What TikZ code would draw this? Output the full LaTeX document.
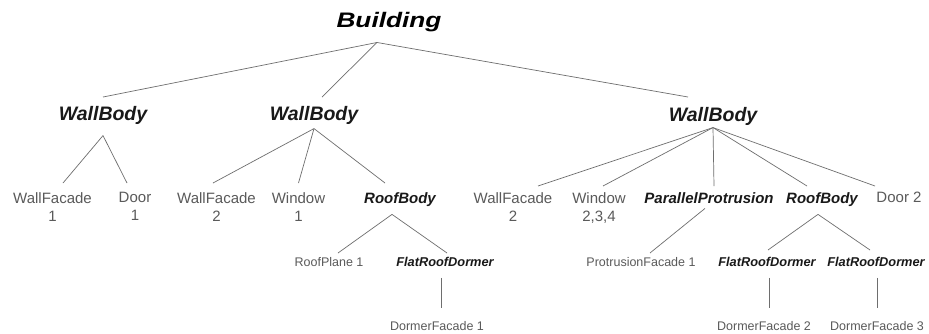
\documentclass[tikz,border=0pt]{standalone}
\usepackage{fontspec}
\setmainfont{Liberation Sans}
\usepackage{graphicx}
\usepackage{xcolor}
\definecolor{leafgray}{HTML}{5A5A5A}
\definecolor{linegray}{HTML}{6E6E6E}
\tikzset{
  bigclass/.style={anchor=north, inner sep=0pt, text=black, font=\fontsize{21}{24}\selectfont\bfseries\itshape},
  class/.style={anchor=north, inner sep=0pt, text=black!90, font=\fontsize{19.5}{22}\selectfont\bfseries\itshape},
  leaf/.style={anchor=north, inner sep=0pt, align=center, text=leafgray, font=\fontsize{15}{18}\selectfont},
  midclass/.style={anchor=north, inner sep=0pt, text=black!90, font=\fontsize{15}{18}\selectfont\bfseries\itshape},
  small/.style={anchor=north, inner sep=0pt, text=leafgray, font=\fontsize{12.5}{15}\selectfont},
  smallclass/.style={anchor=north, inner sep=0pt, text=black!90, font=\fontsize{12.8}{15}\selectfont\bfseries\itshape},
  link/.style={draw=linegray, line width=0.7pt}
}
\begin{document}
\begin{tikzpicture}[x=1pt,y=-1pt]
% fond blanc
\useasboundingbox[fill=white] (0,0) rectangle (929,333);
% racine et corps de murs
\node[bigclass] (bld) at (389,12) {\scalebox{1.25}[1]{Building}};
\node[class] (wb1) at (103,106) {WallBody};
\node[class] (wb2) at (314,106) {WallBody};
\node[class] (wb3) at (713,107) {WallBody};
% premier niveau de feuilles
\node[leaf] (wf1) at (52.5,192) {WallFacade\\1};
\node[leaf] (door1) at (135,192) {Door\\1};
\node[leaf] (wf2) at (216.5,192) {WallFacade\\2};
\node[leaf] (win1) at (298.5,192) {Window\\1};
\node[midclass] (rb1) at (400,192) {RoofBody};
\node[leaf] (wf3) at (513,192) {WallFacade\\2};
\node[leaf] (win2) at (599,192) {Window\\2,3,4};
\node[midclass] (pp) at (709,192) {ParallelProtrusion};
\node[midclass] (rb2) at (822,192) {RoofBody};
\node[leaf] (door2) at (899,192) {Door 2};
% toits et lucarnes
\node[small] (rp1) at (329,257) {RoofPlane 1};
\node[smallclass] (frd1) at (445,257) {FlatRoofDormer};
\node[small] (pf1) at (641,257) {ProtrusionFacade 1};
\node[smallclass] (frd2) at (767,257) {FlatRoofDormer};
\node[smallclass] (frd3) at (876,257) {FlatRoofDormer};
\node[small] (df1) at (437,321) {DormerFacade 1};
\node[small] (df2) at (764,321) {DormerFacade 2};
\node[small] (df3) at (877,321) {DormerFacade 3};
% liens
\begin{scope}[link]
  \draw ([shift={(-12,10.5)}]bld.south) -- ([shift={(0,-9)}]wb1.north);
  \draw ([shift={(-12,10.5)}]bld.south) -- ([shift={(8,-9)}]wb2.north);
  \draw ([shift={(-12,10.5)}]bld.south) -- ([shift={(-25,-10)}]wb3.north);
  \draw ([shift={(0,11)}]wb1.south) -- ([shift={(10.5,-9)}]wf1.north);
  \draw ([shift={(0,11)}]wb1.south) -- ([shift={(-8,-9)}]door1.north);
  \draw ([shift={(0,4)}]wb2.south) -- ([shift={(-3.5,-9)}]wf2.north);
  \draw ([shift={(0,4)}]wb2.south) -- ([shift={(0,-9)}]win1.north);
  \draw ([shift={(0,4)}]wb2.south) -- ([shift={(-15,-9)}]rb1.north);
  \draw ([shift={(0,2)}]wb3.south) -- ([shift={(25,-6)}]wf3.north);
  \draw ([shift={(0,2)}]wb3.south) -- ([shift={(4,-6)}]win2.north);
  \draw ([shift={(0,2)}]wb3.south) -- ([shift={(5,-6)}]pp.north);
  \draw ([shift={(0,2)}]wb3.south) -- ([shift={(-15,-6)}]rb2.north);
  \draw ([shift={(0,2)}]wb3.south) -- ([shift={(-24,-6)}]door2.north);
  \draw ([shift={(-8,8)}]rb1.south) -- ([shift={(9,-4)}]rp1.north);
  \draw ([shift={(-8,8)}]rb1.south) -- ([shift={(2,-4)}]frd1.north);
  \draw ([shift={(-4,5)}]pp.south) -- ([shift={(9,-4)}]pf1.north);
  \draw ([shift={(-4,8)}]rb2.south) -- ([shift={(1,-7)}]frd2.north);
  \draw ([shift={(-4,8)}]rb2.south) -- ([shift={(-6,-7)}]frd3.north);
  \draw ([shift={(-4,11)}]frd1.south) -- ([shift={(4,-13)}]df1.north);
  \draw ([shift={(2,11)}]frd2.south) -- ([shift={(5,-13)}]df2.north);
  \draw ([shift={(1,11)}]frd3.south) -- ([shift={(0,-13)}]df3.north);
\end{scope}
\end{tikzpicture}
\end{document}
